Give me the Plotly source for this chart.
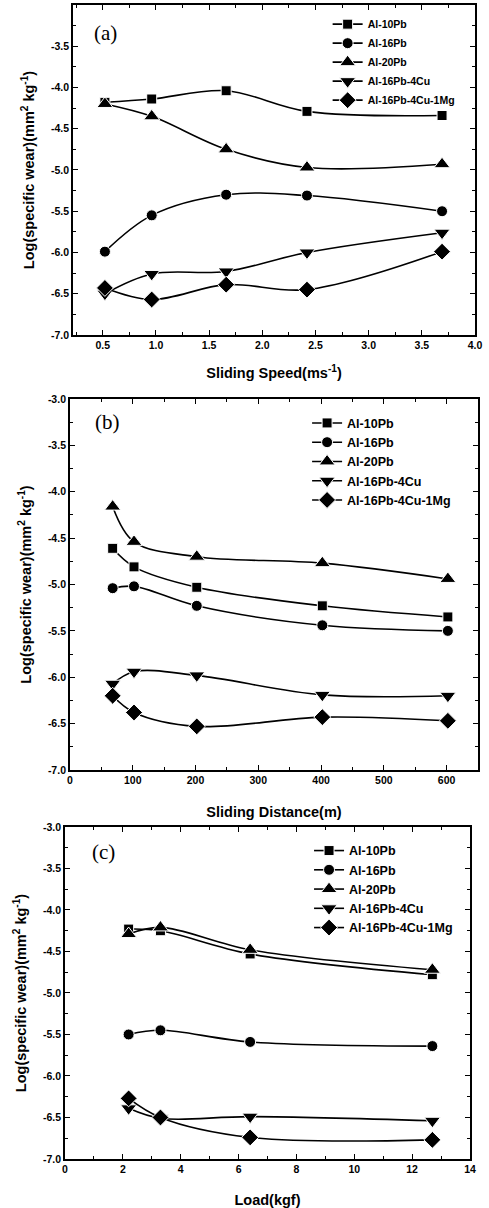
import plotly.graph_objects as go

names = ["Al-10Pb", "Al-16Pb", "Al-20Pb", "Al-16Pb-4Cu", "Al-16Pb-4Cu-1Mg"]
symbols = ["square", "circle", "triangle-up", "triangle-down", "diamond"]
msizes = [10, 11, 14, 14, 13]

# (a) Sliding speed (m/s)
speed = [0.52, 0.96, 1.66, 2.42, 3.69]
a_10Pb = [-4.18, -4.14, -4.04, -4.29, -4.34]
a_16Pb = [-5.99, -5.55, -5.30, -5.31, -5.50]
a_20Pb = [-4.20, -4.35, -4.75, -4.97, -4.93]
a_4Cu = [-6.50, -6.26, -6.23, -6.00, -5.76]
a_1Mg = [-6.43, -6.57, -6.39, -6.45, -5.99]

# (b) Sliding distance (m)
distance = [68, 102, 202, 402, 602]
b_10Pb = [-4.61, -4.81, -5.03, -5.23, -5.35]
b_16Pb = [-5.04, -5.02, -5.23, -5.44, -5.50]
b_20Pb = [-4.16, -4.54, -4.70, -4.77, -4.94]
b_4Cu = [-6.07, -5.94, -5.98, -6.19, -6.20]
b_1Mg = [-6.20, -6.38, -6.53, -6.43, -6.47]

# (c) Load (kgf)
load = [2.2, 3.3, 6.4, 12.7]
c_10Pb = [-4.23, -4.25, -4.53, -4.78]
c_16Pb = [-5.50, -5.45, -5.59, -5.64]
c_20Pb = [-4.29, -4.21, -4.48, -4.72]
c_4Cu = [-6.39, -6.51, -6.49, -6.54]
c_1Mg = [-6.27, -6.50, -6.74, -6.77]

panels = [
    (speed, [a_10Pb, a_16Pb, a_20Pb, a_4Cu, a_1Mg], "x", "y", "legend"),
    (distance, [b_10Pb, b_16Pb, b_20Pb, b_4Cu, b_1Mg], "x2", "y2", "legend2"),
    (load, [c_10Pb, c_16Pb, c_20Pb, c_4Cu, c_1Mg], "x3", "y3", "legend3"),
]

fig = go.Figure()
for xs, series, xa, ya, lg in panels:
    for name, sym, ms, ys in zip(names, symbols, msizes, series):
        fig.add_trace(go.Scatter(
            x=xs, y=ys, name=name, mode="lines+markers",
            xaxis=xa, yaxis=ya, legend=lg,
            line=dict(color="black", width=1.6, shape="spline", smoothing=1.0),
            marker=dict(symbol=sym, size=ms, color="black",
                        line=dict(color="white", width=1)),
        ))

TF = dict(family="Liberation Sans, Arial", size=10.5, color="black", weight="bold")
TITLEF = dict(family="Liberation Sans, Arial", size=14.5, color="black", weight="bold")


def xax(domain, rng, dtick, mdtick, anchor, title, fmt, so):
    return dict(domain=domain, range=rng, anchor=anchor, dtick=dtick, tick0=0,
                tickformat=fmt,
                showline=True, linecolor="black", linewidth=1.8, mirror="ticks",
                ticks="inside", ticklen=5, tickwidth=1.4, tickcolor="black",
                minor=dict(ticks="inside", ticklen=3, dtick=mdtick, tickcolor="black", tickwidth=1.1),
                showgrid=False, zeroline=False, tickfont=TF, automargin=False,
                title=dict(text=title, font=TITLEF, standoff=so))


def yax(domain, anchor, tickvals):
    return dict(domain=domain, range=[-7.0, -3.0], anchor=anchor,
                tickvals=tickvals, ticktext=[f"{v:.1f}" for v in tickvals],
                showline=True, linecolor="black", linewidth=1.8, mirror="ticks",
                ticks="inside", ticklen=5, tickwidth=1.4, tickcolor="black",
                minor=dict(ticks="inside", ticklen=3, dtick=0.25, tickcolor="black", tickwidth=1.1),
                showgrid=False, zeroline=False, tickfont=TF, automargin=False,
                title=dict(text="Log(specific wear)(mm<sup>2</sup> kg<sup>-1</sup>)",
                           font=TITLEF, standoff=13))


yt_a = [-7.0, -6.5, -6.0, -5.5, -5.0, -4.5, -4.0, -3.5]
yt_bc = yt_a + [-3.0]

LF_a = dict(family="Liberation Sans, Arial", size=10.5, color="black", weight="bold")
LF_bc = dict(family="Liberation Sans, Arial", size=12.5, color="black", weight="bold")

fig.update_layout(
    width=489, height=1208, template="none",
    paper_bgcolor="white", plot_bgcolor="white",
    margin=dict(l=0, r=0, t=0, b=0),
    xaxis=xax([0.1493, 0.9714], [0.22, 4.0], 0.5, 0.25, "y", "Sliding Speed(ms<sup>-1</sup>)", ".1f", 17),
    yaxis=yax([0.7227, 0.9959], "x", yt_a),
    xaxis2=xax([0.1431, 0.9775], [0, 650], 100, 50, "y2", "Sliding Distance(m)", "d", 21),
    yaxis2=yax([0.3626, 0.6697], "x2", yt_bc),
    xaxis3=xax([0.1329, 0.9611], [0, 14], 2, 1, "y3", "Load(kgf)", "d", 20),
    yaxis3=yax([0.0406, 0.3154], "x3", yt_bc),
    legend=dict(x=0.670, y=0.992, xanchor="left", yanchor="top", font=LF_a,
                bgcolor="rgba(0,0,0,0)", tracegroupgap=0, itemwidth=30),
    legend2=dict(x=0.628, y=0.662, xanchor="left", yanchor="top", font=LF_bc,
                 bgcolor="rgba(0,0,0,0)", tracegroupgap=0, itemwidth=30),
    legend3=dict(x=0.632, y=0.308, xanchor="left", yanchor="top", font=LF_bc,
                 bgcolor="rgba(0,0,0,0)", tracegroupgap=0, itemwidth=30),
    showlegend=True,
)

PF = dict(family="Liberation Serif, Times New Roman", size=21, color="black")
for lbl, xr, yr, px, py in [("(a)", "x domain", "y domain", 0.082, 0.915),
                            ("(b)", "x2 domain", "y2 domain", 0.091, 0.938),
                            ("(c)", "x3 domain", "y3 domain", 0.094, 0.925)]:
    fig.add_annotation(text=lbl, xref=xr, yref=yr, x=px, y=py, showarrow=False,
                       xanchor="center", yanchor="middle", font=PF)

fig.write_html("out.html", config={"displayModeBar": False},
               post_script="document.body.style.margin='0px';")
